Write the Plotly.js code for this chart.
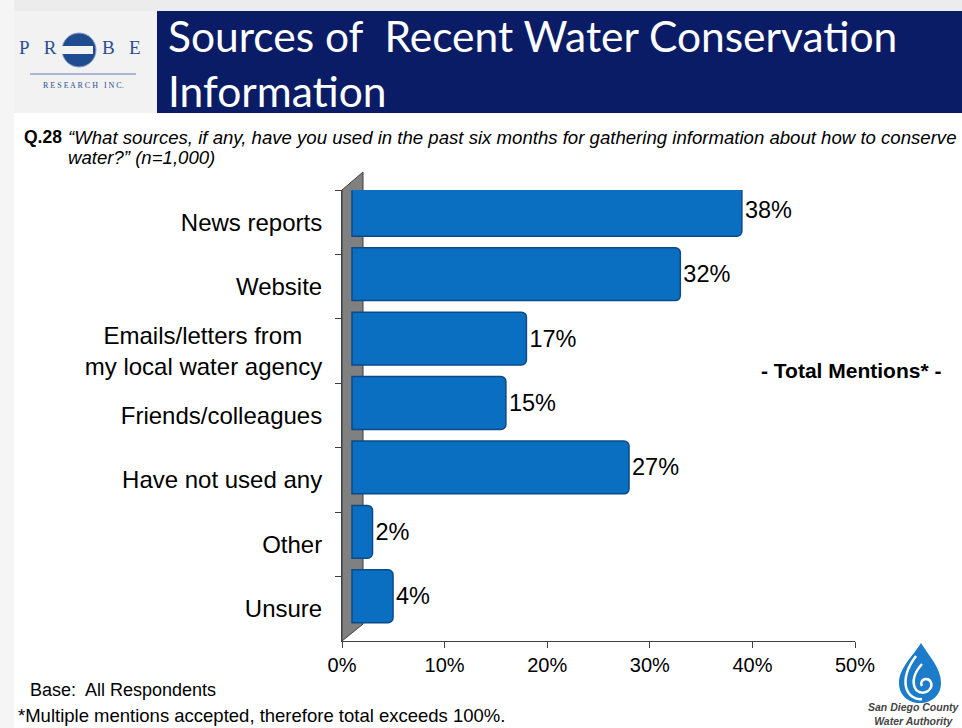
<!DOCTYPE html>
<html><head><meta charset="utf-8">
<script src="https://cdn.plot.ly/plotly-3.0.1.min.js"></script>
<style>html,body{margin:0;padding:0;background:#fff}#chart{width:962px;height:728px}</style>
</head><body><div id="chart"></div>
<script>
const categories = ["News reports","Website","Emails/letters from\u00a0\u00a0\u00a0<br>my local water agency","Friends/colleagues","Have not used any","Other","Unsure"];
const values = [38, 32, 17, 15, 27, 2, 4];
const xTickVals = [0,10,20,30,40,50];
const xTickText = ["0%","10%","20%","30%","40%","50%"];

const W = 962, H = 728;
const L = 342, R = 855, T = 190, B = 641;
const px = v => (v - L) / (R - L);
const py = v => (B - v) / (B - T);
function path(pts){ return pts.map((p,i)=>(i?'L':'M')+px(p[0])+','+py(p[1])).join(' ')+' Z'; }
function cpath(str){
  return str.replace(/(-?\d+\.?\d*),(-?\d+\.?\d*)/g,(m,a,b)=>px(+a)+','+py(+b));
}

const shapes = [
  {type:'rect',xref:'paper',yref:'paper',x0:px(0),x1:px(W),y0:py(0),y1:py(11),fillcolor:'#ECECEC',line:{width:0},layer:'below'},
  {type:'rect',xref:'paper',yref:'paper',x0:px(0),x1:px(14),y0:py(0),y1:py(728),fillcolor:'#F5F5F5',line:{width:0},layer:'below'},
  {type:'rect',xref:'paper',yref:'paper',x0:px(14),x1:px(157),y0:py(11),y1:py(113),fillcolor:'#F2F2F2',line:{width:0},layer:'below'},
  {type:'rect',xref:'paper',yref:'paper',x0:px(157),x1:px(962),y0:py(11),y1:py(113),fillcolor:'#0B1C66',line:{width:0},layer:'below'},
  {type:'circle',xref:'paper',yref:'paper',x0:px(62),x1:px(96),y0:py(33),y1:py(67),fillcolor:'#1E4C8E',line:{color:'#8FA3C8',width:1},layer:'above'},
  {type:'rect',xref:'paper',yref:'paper',x0:px(61),x1:px(93),y0:py(46),y1:py(54),fillcolor:'#F2F2F2',line:{width:0},layer:'above'},
  {type:'line',xref:'paper',yref:'paper',x0:px(30),x1:px(136),y0:py(74),y1:py(74),line:{color:'#8FA3C8',width:1.5}},
  {type:'path',xref:'paper',yref:'paper',path:path([[342,641],[342,190],[363,172],[363,624]]),fillcolor:'#808080',line:{color:'#3F3F3F',width:1},layer:'below'},
  {type:'path',xref:'paper',yref:'paper',path:cpath('M 921,643 C 913,656 899,668 899,683 C 899,695 908,703 920,703 C 932,703 941,695 941,683 C 941,668 929,656 921,643 Z'),fillcolor:'#1C7CC9',line:{width:0}},
  {type:'path',xref:'paper',yref:'paper',path:cpath('M 916,656 C 907,668 904,677 906,687 C 908,696 916,700 922,699'),line:{color:'#ffffff',width:2.5}},
  {type:'path',xref:'paper',yref:'paper',path:cpath('M 922,664 C 914,673 912,681 915,688 C 918,694 926,694 930,689 C 933,685 931,679 926,679 C 922,679 920,683 922,686'),line:{color:'#ffffff',width:2.5}}
];

const annFont = {family:'Liberation Sans, Arial, sans-serif', color:'#000'};
const titleFont = {family:'Lato, sans-serif',size:42.5,color:'#ffffff'};
const annotations = [
  {xref:'paper',yref:'paper',x:px(166),y:py(8),xanchor:'left',yanchor:'top',text:'Sources of\u00a0 Recent Water Conservation',showarrow:false,font:titleFont},
  {xref:'paper',yref:'paper',x:px(166),y:py(63),xanchor:'left',yanchor:'top',text:'Information',showarrow:false,font:titleFont},
  {xref:'paper',yref:'paper',x:px(17),y:py(48),xanchor:'left',yanchor:'middle',text:'P\u00a0\u00a0\u00a0R',showarrow:false,font:{family:'Liberation Serif, serif',size:19,color:'#2B4F92'}},
  {xref:'paper',yref:'paper',x:px(100),y:py(48),xanchor:'left',yanchor:'middle',text:'B\u00a0\u00a0\u00a0E',showarrow:false,font:{family:'Liberation Serif, serif',size:19,color:'#2B4F92'}},
  {xref:'paper',yref:'paper',x:px(83),y:py(86),xanchor:'center',yanchor:'middle',text:'R E S E A R C H\u00a0\u00a0\u00a0I N C.',showarrow:false,font:{family:'Liberation Serif, serif',size:8,color:'#2B4F92'}},
  {xref:'paper',yref:'paper',x:px(22),y:py(137),xanchor:'left',yanchor:'middle',text:'<b>Q.28</b>',showarrow:false,font:Object.assign({size:17.5},annFont)},
  {xref:'paper',yref:'paper',x:px(66),y:py(137),xanchor:'left',yanchor:'middle',text:'<i>“What sources, if any, have you used in the past six months for gathering information about how to conserve</i>',showarrow:false,font:Object.assign({size:18.6},annFont)},
  {xref:'paper',yref:'paper',x:px(66),y:py(158),xanchor:'left',yanchor:'middle',text:'<i>water?” (n=1,000)</i>',showarrow:false,font:Object.assign({size:18.6},annFont)},
  {xref:'paper',yref:'paper',x:px(851),y:py(370),xanchor:'center',yanchor:'middle',text:'<b>- Total Mentions* -</b>',showarrow:false,font:Object.assign({size:21},annFont)},
  {xref:'paper',yref:'paper',x:px(28),y:py(690),xanchor:'left',yanchor:'middle',text:'Base:\u00a0 All Respondents',showarrow:false,font:Object.assign({size:18},annFont)},
  {xref:'paper',yref:'paper',x:px(16),y:py(715),xanchor:'left',yanchor:'middle',text:'*Multiple mentions accepted, therefore total exceeds 100%.',showarrow:false,font:Object.assign({size:18.5},annFont)},
  {xref:'paper',yref:'paper',x:px(914),y:py(714),xanchor:'center',yanchor:'middle',text:'<b><i>San Diego County<br>Water Authority</i></b>',showarrow:false,font:{family:'Liberation Sans, Arial, sans-serif',size:10.5,color:'#444'}}
];

const traces = [
  {type:'scatter',x:values,y:categories,mode:'markers',marker:{opacity:0},hoverinfo:'skip',showlegend:false,xaxis:'x',yaxis:'y'},
  {type:'bar',orientation:'h',x:values,y:categories,xaxis:'x2',yaxis:'y2',width:0.82,
   marker:{color:'#0B6FC1',line:{color:'#0A4A8A',width:1.5},cornerradius:5},
   text:values.map(v=>v+'%'),textposition:'outside',cliponaxis:false,
   textfont:{family:'Liberation Sans, Arial, sans-serif',size:23.5,color:'#000'},showlegend:false}
];

const layout = {
  width:W,height:H,
  margin:{l:L,r:W-R,t:T,b:H-B,pad:0},
  paper_bgcolor:'#ffffff',plot_bgcolor:'rgba(0,0,0,0)',
  font:{family:'Liberation Sans, Arial, sans-serif',color:'#000'},
  xaxis:{range:[0,50],tickvals:xTickVals,ticktext:xTickText,ticks:'outside',ticklen:6,tickcolor:'#404040',
    showline:true,linecolor:'#404040',linewidth:1,showgrid:false,zeroline:false,
    tickfont:{size:20,color:'#000'},fixedrange:true},
  yaxis:{type:'category',categoryorder:'array',categoryarray:categories,range:[6.5,-0.5],
    tickson:'boundaries',ticks:'outside',ticklen:6,tickcolor:'#404040',
    showline:true,linecolor:'#404040',linewidth:1,showgrid:false,zeroline:false,
    tickfont:{size:24,color:'#000'},ticklabelstandoff:14,fixedrange:true},
  xaxis2:{overlaying:'x',anchor:'y',range:[-0.975,49.025],visible:false,fixedrange:true},
  yaxis2:{overlaying:'y',anchor:'x',type:'category',categoryorder:'array',categoryarray:categories,range:[6.694,-0.306],visible:false,fixedrange:true},
  shapes:shapes,annotations:annotations,
  bargap:0.2,showlegend:false
};

Plotly.newPlot('chart',traces,layout,{displayModeBar:false,staticPlot:true});
</script>
</body></html>
